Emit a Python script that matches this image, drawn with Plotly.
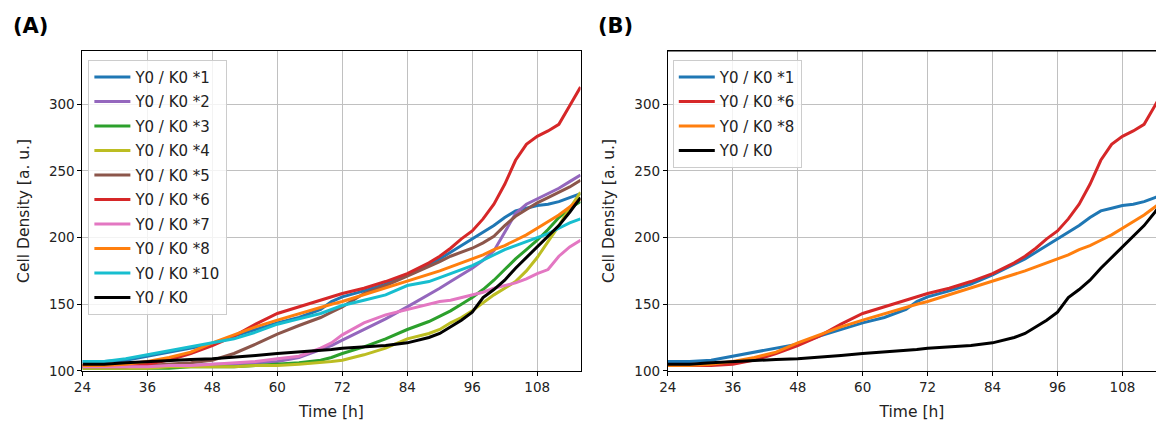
import plotly.graph_objects as go

# Sampling times [h]
time_h = [24, 28, 32, 36, 40, 44, 48, 52, 56, 60, 64, 68, 70, 72, 76, 80,
          84, 88, 90, 92, 94, 96, 98, 100, 102, 104, 106, 108, 110, 112, 114, 116]

# Cell density [a. u.] per condition
k0_x1 = [107, 107, 108, 111, 114, 117, 120, 126, 131, 136, 140, 146, 152, 155.5, 160, 165,
         172, 180, 184, 189, 194, 199, 204, 209, 215, 220, 222, 224, 225, 227, 230, 233]
k0_x2 = [103, 103, 103, 103, 104, 104, 105, 105, 106, 107, 110, 116, 119, 123, 131, 139,
         148, 157, 162, 167, 172, 177, 183, 190, 204, 218, 225, 229, 233, 237, 242, 247]
k0_x3 = [102, 102, 102, 102, 102, 103, 103, 103, 104, 105, 106, 108, 110, 113, 118, 124,
         131, 137, 141, 145, 150, 155, 161, 168, 176, 184, 191, 198, 206, 215, 222, 227]
k0_x4 = [102, 102, 102, 102, 103, 103, 103, 103, 104, 104, 105, 106, 107, 108, 112, 117,
         124, 128, 131, 136, 140, 145, 151, 157, 162, 167, 175, 185, 197, 209, 222, 234]
k0_x5 = [103, 103, 103, 104, 105, 106, 108, 113, 120, 127.5, 134, 140, 144, 148, 158, 164,
         171, 178, 182, 186, 189, 192, 196, 201, 209, 216, 221, 226, 230, 234, 238, 243]
k0_x6 = [104, 104, 104, 105, 108, 113, 119, 126, 135, 143, 148, 153, 156, 158, 162, 167,
         173, 181, 186, 192, 199, 205, 214, 225, 240, 258, 270, 276, 280, 285, 299, 313]
k0_x7 = [103, 103, 103, 103, 104, 104, 105, 106, 107, 109, 111, 117, 121, 127, 136, 142,
         146, 150, 152, 153, 155, 157, 159, 162, 164, 166, 169, 173, 176, 186, 193, 198]
k0_x8 = [104, 104, 105, 107, 110, 114, 121, 127, 133, 138, 143, 147.5, 150, 152, 157, 162,
         167, 172, 175, 178, 181, 184, 187, 191, 194, 198, 202, 207, 212, 217, 223, 229]
k0_x10 = [107, 107, 109, 112, 115, 118, 121, 124, 129, 135, 139, 143, 146, 149, 153, 157,
          164, 167, 170, 173, 176, 179, 183, 187, 191, 194, 197, 200, 203, 207, 211, 214]
k0_base = [105, 105, 106, 107, 108, 108.5, 109, 110, 111.5, 113, 114, 115, 116, 117, 118, 119,
           121, 125, 128, 133, 138, 144, 155, 161, 168, 177, 185, 193, 201, 209, 219, 230]

series_a = [
    ("Y0 / K0 *1", k0_x1, "#1f77b4"),
    ("Y0 / K0 *2", k0_x2, "#9467bd"),
    ("Y0 / K0 *3", k0_x3, "#2ca02c"),
    ("Y0 / K0 *4", k0_x4, "#bcbd22"),
    ("Y0 / K0 *5", k0_x5, "#8c564b"),
    ("Y0 / K0 *6", k0_x6, "#d62728"),
    ("Y0 / K0 *7", k0_x7, "#e377c2"),
    ("Y0 / K0 *8", k0_x8, "#ff7f0e"),
    ("Y0 / K0 *10", k0_x10, "#17becf"),
    ("Y0 / K0", k0_base, "black"),
]
series_b = [series_a[0], series_a[5], series_a[7], series_a[9]]

x_ticks = [24, 36, 48, 60, 72, 84, 96, 108]
y_ticks = [100, 150, 200, 250, 300]

W, H = 1156, 421
FONT = "DejaVu Sans"

fig = go.Figure()

for i, (name, vals, col) in enumerate(series_a):
    fig.add_trace(go.Scatter(
        x=time_h, y=vals, name=name, mode="lines",
        line=dict(color=col, width=3), legend="legend",
        legendgroup=f"a{i}", xaxis="x", yaxis="y"))

for i, (name, vals, col) in enumerate(series_b):
    fig.add_trace(go.Scatter(
        x=time_h, y=vals, name=name, mode="lines",
        line=dict(color=col, width=3), legend="legend2",
        legendgroup=f"b{i}", xaxis="x2", yaxis="y2"))

y_dom = [(H - 378) / H, (H - 52) / H]

axis_common = dict(
    showgrid=True, gridcolor="#c0c0c0", gridwidth=1,
    showline=True, linecolor="black", linewidth=1,
    ticks="outside", ticklen=4, tickcolor="black",
    tickfont=dict(family=FONT, size=13.5, color="#222"),
    zeroline=False,
)

legend_common = dict(
    font=dict(family=FONT, size=15, color="#222"),
    bgcolor="rgba(255,255,255,0.8)", bordercolor="#cccccc", borderwidth=1,
    xanchor="left", yanchor="top", tracegroupgap=2,
    itemwidth=36,
)

x_title = dict(text="Time [h]", standoff=13, font=dict(family=FONT, size=15.5))
y_title = dict(text="Cell Density [a. u.]", standoff=15, font=dict(family=FONT, size=15.5))

fig.update_layout(
    width=W, height=H,
    margin=dict(l=0, r=0, t=0, b=0),
    paper_bgcolor="white", plot_bgcolor="white",
    font=dict(family=FONT, color="#222"),
    xaxis=dict(domain=[74 / W, 576 / W], range=[24, 116], tickvals=x_ticks,
               mirror=True, anchor="y", title=x_title, **axis_common),
    yaxis=dict(domain=y_dom, range=[100, 340], tickvals=y_ticks,
               mirror=True, anchor="x", title=y_title, **axis_common),
    xaxis2=dict(domain=[664 / W, 1.0], range=[24, 114.2], tickvals=x_ticks,
                mirror=True, anchor="y2", title=x_title, **axis_common),
    yaxis2=dict(domain=y_dom, range=[100, 340], tickvals=y_ticks,
                mirror=False, anchor="x2", title=y_title, **axis_common),
    legend=dict(x=80 / W, y=(H - 61) / H, **legend_common),
    legend2=dict(x=669 / W, y=(H - 61) / H, **legend_common),
    showlegend=True,
)

# Panel letters
for txt, px in [("(A)", 2), ("(B)", 592)]:
    fig.add_annotation(text=f"<b>{txt}</b>", xref="paper", yref="paper",
                       x=px / W, y=(H - 26) / H, xanchor="left", yanchor="middle",
                       showarrow=False, font=dict(family=FONT, size=21, color="black"))

# Top border of panel B (the right edge runs off the canvas)
fig.add_shape(type="line", xref="x2 domain", yref="y2 domain",
              x0=0, x1=1, y0=1, y1=1, line=dict(color="black", width=1))

fig.write_html("out.html")
